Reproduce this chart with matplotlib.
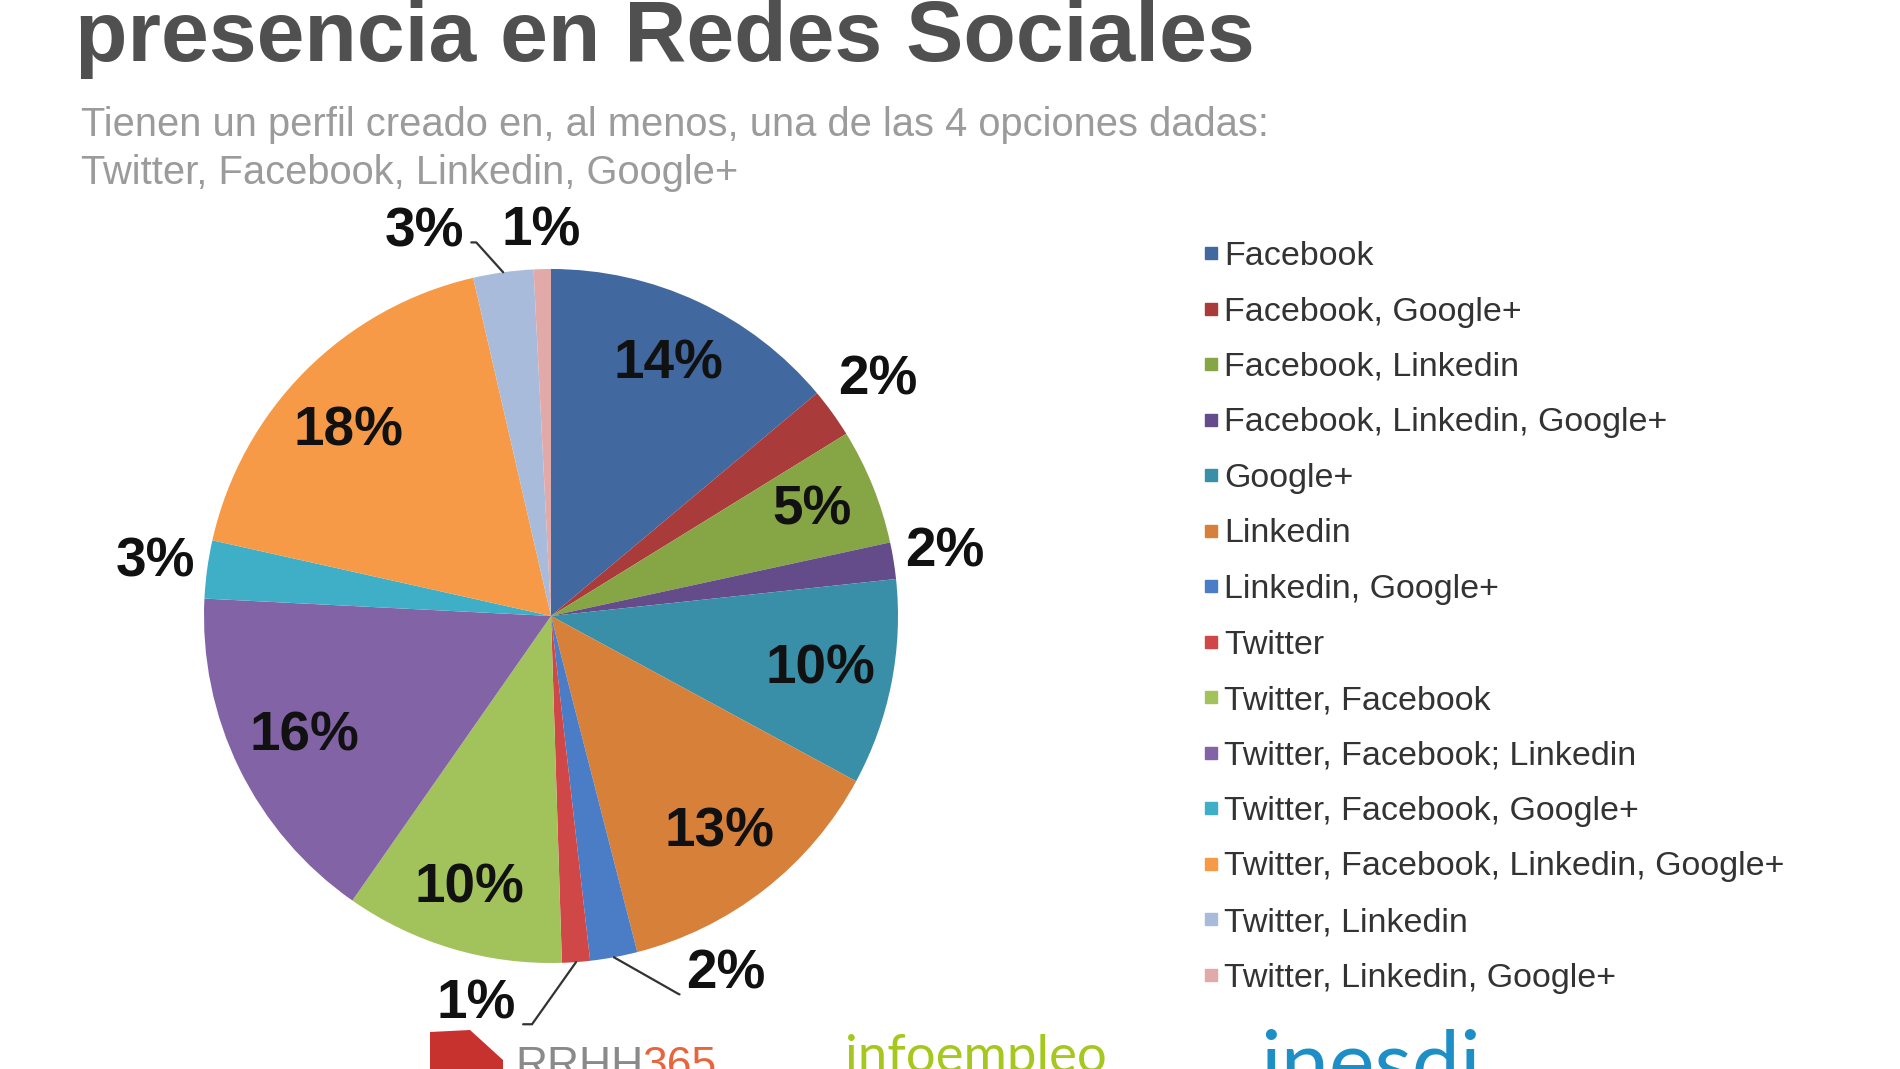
import numpy as np
import matplotlib
matplotlib.use("Agg")
import matplotlib.pyplot as plt
from matplotlib.lines import Line2D
from matplotlib.patches import Polygon

# ---------------- data ----------------
categories = [
    "Facebook",
    "Facebook, Google+",
    "Facebook, Linkedin",
    "Facebook, Linkedin, Google+",
    "Google+",
    "Linkedin",
    "Linkedin, Google+",
    "Twitter",
    "Twitter, Facebook",
    "Twitter, Facebook; Linkedin",
    "Twitter, Facebook, Google+",
    "Twitter, Facebook, Linkedin, Google+",
    "Twitter, Linkedin",
    "Twitter, Linkedin, Google+",
]
values = [13.9, 2.3, 5.4, 1.7, 9.6, 13.1, 2.2, 1.3, 10.2, 16.1, 2.7, 17.9, 2.8, 0.8]

title = "presencia en Redes Sociales"
subtitle = ["Tienen un perfil creado en, al menos, una de las 4 opciones dadas:",
            "Twitter, Facebook, Linkedin, Google+"]

# ---------------- style ----------------
colors = ["#41689F", "#A93B3A", "#86A545", "#644B8A", "#3A8FA8", "#D6803A",
          "#4A7DC6", "#CF4746", "#A2C25C", "#8264A6", "#3FAFC8", "#F69A48",
          "#A9BBDB", "#E2A9A9"]
# radial distance and angular offset of each percentage label
label_r = [0.80, 1.16, 0.81, 1.15, 0.79, 0.79, 1.15, 1.14, 0.82, 0.79, 1.15, 0.79, 1.165, 1.107]
label_dang = [0, 0, 0, 0, 0, 0, 15.6, -15.0, 0, 0, 0, 2.5, 10.3, 0]
# leader lines: (angle of the diagonal piece, anchor point on the label box) or None
leader = [None, None, None, None, None, None,
          (-29.6, (0.0, 0.12)), (54.7, (1.0, 0.12)),
          None, None, None, None,
          (132.0, (1.0, 0.3)), None]

W, H = 1900, 1069
fig = plt.figure(figsize=(W / 100, H / 100), dpi=100)
fig.patch.set_facecolor("white")

# pie geometry in pixels
cx, cy, R = 551, 616, 347
k = 1.5
ax = fig.add_axes([(cx - R * k) / W, (H - cy - R * k) / H, 2 * R * k / W, 2 * R * k / H])

wedges, _ = ax.pie(values, colors=colors, startangle=90, counterclock=False,
                   radius=1.0, wedgeprops=dict(linewidth=0))
ax.set_xlim(-k, k)
ax.set_ylim(-k, k)
ax.set_aspect("equal")
ax.axis("off")

lab_font = dict(fontsize=39.5, fontweight="bold", color="#111111", family="Liberation Sans")
for w, v, r, da, ld in zip(wedges, values, label_r, label_dang, leader):
    mid = (w.theta1 + w.theta2) / 2.0
    a = np.deg2rad(mid + da)
    tx, ty = r * np.cos(a), r * np.sin(a)
    txt = f"{round(v)}%"
    if ld is not None:
        slope, relpos = ld
        am = np.deg2rad(mid)
        ex, ey = np.cos(am), np.sin(am)
        ax.annotate(txt, xy=(ex, ey), xytext=(tx, ty), ha="center", va="center",
                    arrowprops=dict(arrowstyle="-", color="#333333", lw=1.6,
                                    shrinkA=3, shrinkB=0, relpos=relpos,
                                    connectionstyle=f"angle,angleA=0,angleB={slope:.1f},rad=0"),
                    **lab_font)
    else:
        ax.text(tx, ty, txt, ha="center", va="center", **lab_font)

# titles
fig.text(75 / W, 1 - 61 / H, title, fontsize=61.8, fontweight="bold", color="#505050",
         family="Liberation Sans", va="baseline", ha="left")
fig.text(81 / W, 1 - 125 / H, subtitle[0], fontsize=28.7, color="#9B9B9B",
         family="Liberation Sans", va="center", ha="left")
fig.text(81 / W, 1 - 173 / H, subtitle[1], fontsize=28.7, color="#9B9B9B",
         family="Liberation Sans", va="center", ha="left")

# legend
handles = [Line2D([], [], marker="s", linestyle="none", markersize=9,
                  markerfacecolor=c, markeredgecolor=c) for c in colors]
fig.legend(handles, categories, loc="upper left", bbox_to_anchor=(1202 / W, 1 - 241 / H),
           frameon=False, labelspacing=0.72, handlelength=0.5,
           handletextpad=0.15, borderpad=0, borderaxespad=0,
           prop=dict(family="Liberation Sans", size=24.5), labelcolor="#333333")

# logos (partially cut at the bottom)
fig.patches.append(Polygon([[430 / W, 0.0], [430 / W, 1 - 1032 / H], [470 / W, 1 - 1030 / H],
                            [503 / W, 1 - 1060 / H], [503 / W, 0.0]],
                           closed=True, transform=fig.transFigure, facecolor="#C8322E",
                           edgecolor="none"))
fig.text(515 / W, 1 - 1078 / H, "RRHH", fontsize=32, color="#8A8A8A",
         family="Liberation Sans", va="baseline", ha="left")
fig.text(642 / W, 1 - 1078 / H, "365", fontsize=32, color="#E8643C",
         family="Liberation Sans", va="baseline", ha="left")
fig.text(845 / W, 1 - 1072 / H, "infoempleo", fontsize=38, color="#A6C81E",
         family="Lato", va="baseline", ha="left")
fig.text(1260 / W, 1 - 1091 / H, "inesdi", fontsize=62, color="#1E8FC6",
         family="Lato", va="baseline", ha="left")

fig.savefig("out.png", dpi=100, facecolor="white")
